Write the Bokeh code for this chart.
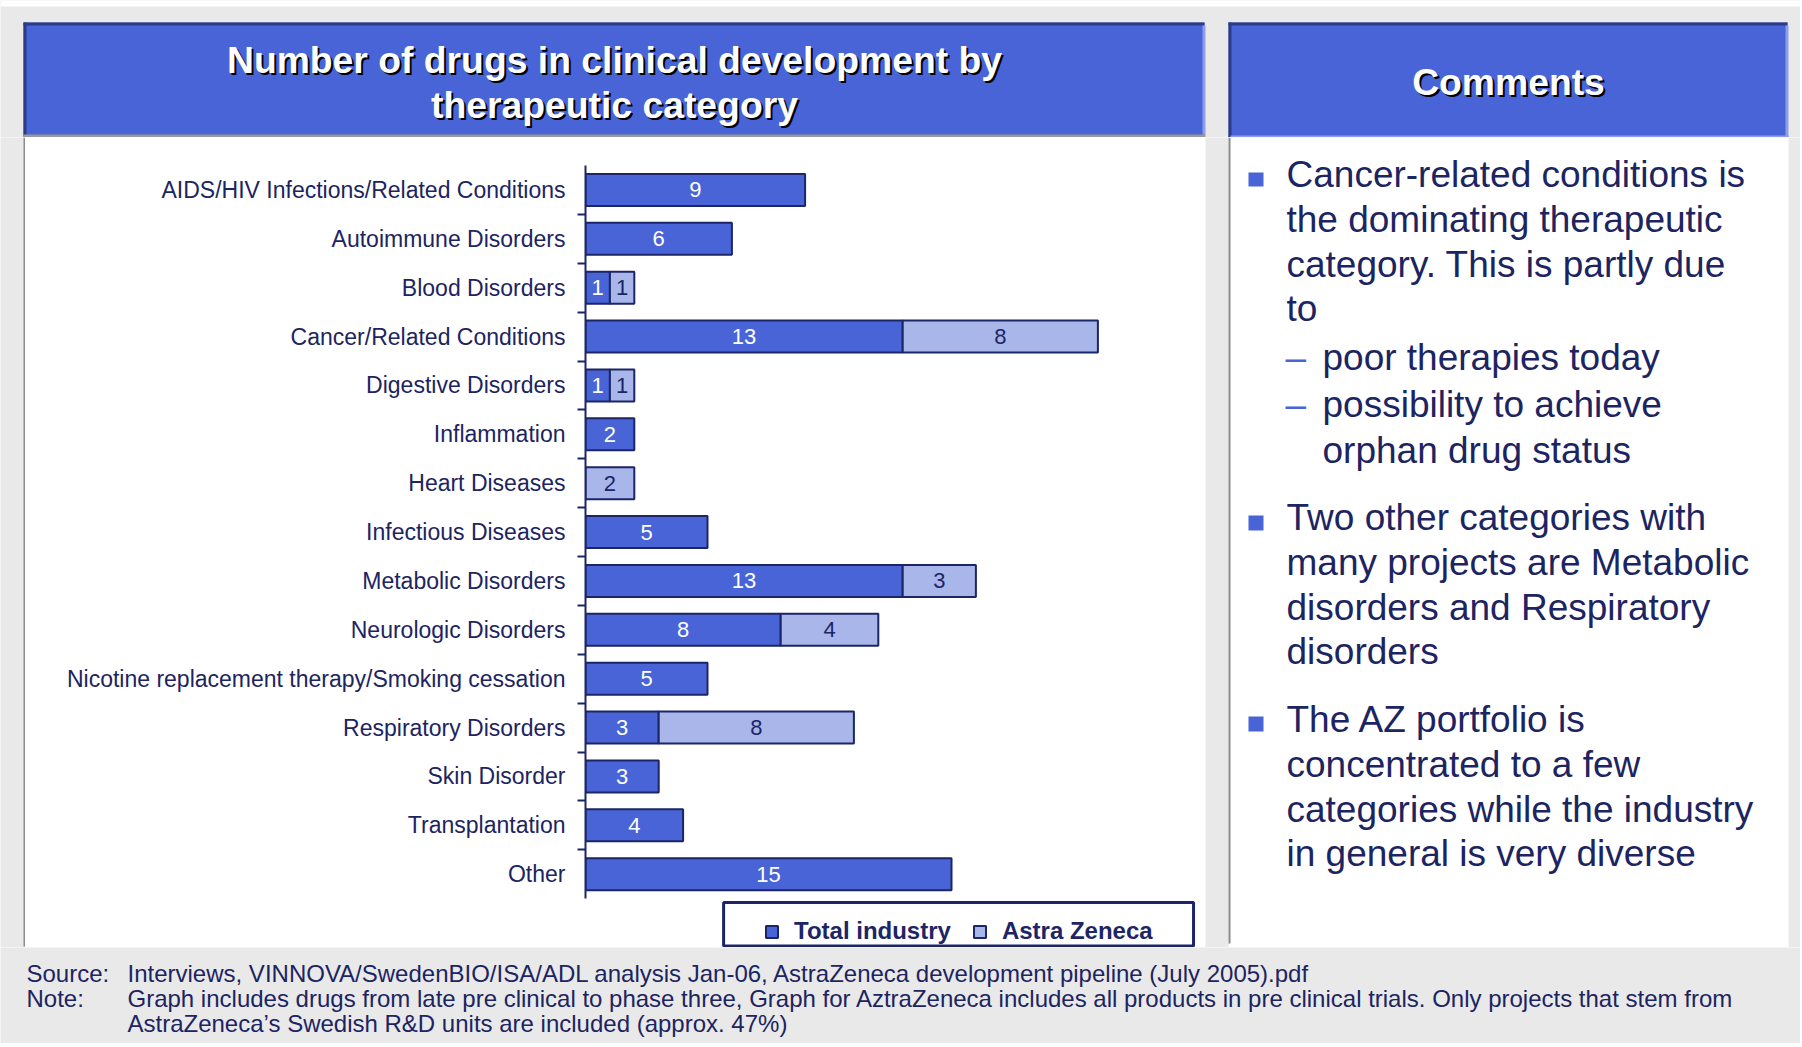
from bokeh.plotting import figure
from bokeh.layouts import column, row
from bokeh.models import (FactorRange, Range1d, CategoricalAxis, Legend, LegendItem,
                          ColumnDataSource)
from bokeh.core.properties import value
from bokeh.embed import file_html
from bokeh.resources import INLINE

# ---------------- data ----------------
categories = [
    "AIDS/HIV Infections/Related Conditions",
    "Autoimmune Disorders",
    "Blood Disorders",
    "Cancer/Related Conditions",
    "Digestive Disorders",
    "Inflammation",
    "Heart Diseases",
    "Infectious Diseases",
    "Metabolic Disorders",
    "Neurologic Disorders",
    "Nicotine replacement therapy/Smoking cessation",
    "Respiratory Disorders",
    "Skin Disorder",
    "Transplantation",
    "Other",
]
total_industry = [9, 6, 1, 13, 1, 2, 0, 5, 13, 8, 5, 3, 3, 4, 15]
astra_zeneca = [0, 0, 1, 8, 1, 0, 2, 0, 3, 4, 0, 8, 0, 0, 0]
series_names = ["Total industry", "Astra Zeneca"]

title_lines = ["Number of drugs in clinical development by", "therapeutic category"]
comments_title = "Comments"
comment_bullets = [
    ["Cancer-related conditions is", "the dominating therapeutic",
     "category. This is partly due", "to"],
    ["Two other categories with", "many projects are Metabolic",
     "disorders and Respiratory", "disorders"],
    ["The AZ portfolio is", "concentrated to a few",
     "categories while the industry", "in general is very diverse"],
]
comment_subitems = [["poor therapies today"], ["possibility to achieve", "orphan drug status"]]
source_label, note_label = "Source:", "Note:"
source_text = "Interviews, VINNOVA/SwedenBIO/ISA/ADL analysis Jan-06, AstraZeneca development pipeline (July 2005).pdf"
note_lines = [
    "Graph includes drugs from late pre clinical to phase three, Graph for AztraZeneca includes all products in pre clinical trials. Only projects that stem from",
    "AstraZeneca\u2019s Swedish R&D units are included (approx. 47%)",
]

# ---------------- style ----------------
BLUE = "#4864d6"
LIGHT = "#a9b6ea"
NAVY = "#1c2566"
TEXT = "#1c2461"
GREY_BG = "#e9e9e9"
DARK_EDGE = "#2d3a86"
LIGHT_EDGE = "#8e9ee8"
BORDER_GREY = "#8c8c8c"
FONT = "Liberation Sans"
TOTAL_W = 1800
BASE_K = 0.35   # baseline correction (fraction of font size)


def pixel_fig(x0, x1, y0, y1, bg):
    """A figure whose data coordinates are page pixels (y downwards)."""
    f = figure(width=x1 - x0, height=y1 - y0, output_backend="svg", toolbar_location=None,
               x_range=Range1d(x0, x1), y_range=Range1d(y1, y0), title=None,
               x_axis_location=None, y_axis_location=None, min_border=0,
               background_fill_color=bg, border_fill_color=bg, outline_line_color=None)
    f.xgrid.visible = False
    f.ygrid.visible = False
    return f


def rects(f, boxes, color, **kw):
    f.quad(left=[b[0] for b in boxes], top=[b[1] for b in boxes],
           right=[b[2] for b in boxes], bottom=[b[3] for b in boxes],
           fill_color=color, line_color=None, **kw)


def texts(f, xs, ys, strs, size, color, bold=False, align="left"):
    f.text(x=xs, y=[y - BASE_K * size for y in ys], text=strs, text_font=value(FONT),
           text_font_size=f"{size}px", text_color=color,
           text_font_style="bold" if bold else "normal",
           text_align=align, text_baseline="alphabetic")


# ================= header strip (page y 0..137) =================
header = pixel_fig(0, TOTAL_W, 0, 137, GREY_BG)
rects(header, [(0, 0, TOTAL_W, 6)], "white")
rects(header, [(23, 22, 1204, 136), (1228, 22, 1787, 137)], BLUE)
rects(header, [(23, 22, 1204, 25), (23, 22, 26, 136),
               (1228, 22, 1787, 25), (1228, 22, 1231, 137)], DARK_EDGE)
rects(header, [(1202, 25, 1205, 134), (1785, 25, 1788, 137), (1230, 135, 1788, 137)], LIGHT_EDGE)
rects(header, [(23, 134, 1205, 137)], "#9a9a9a")
TS = 37.3
t_ys = [73 + 45 * i for i in range(len(title_lines))]
texts(header, [616] * len(title_lines), [y + 2 for y in t_ys], title_lines, TS, "black", True, "center")
texts(header, [614] * len(title_lines), t_ys, title_lines, TS, "white", True, "center")
texts(header, [1510], [97], [comments_title], TS, "black", True, "center")
texts(header, [1508], [95], [comments_title], TS, "white", True, "center")

# ================= left grey strip (page x 0..25, y 137..947) =================
strip = pixel_fig(0, 25, 137, 947, GREY_BG)
rects(strip, [(23, 137, 25, 946)], BORDER_GREY)

# ================= chart (page x 25..1205, y 137..947) =================
FRAME_L, FRAME_R, FRAME_T, FRAME_B = 585, 1195, 165, 947
CH_X0, CH_X1, CH_Y0, CH_Y1 = 25, 1205, 137, 947
N = len(categories)
# one blank slot below the categories holds the legend (inside the frame)
y_factors = [""] + list(reversed(categories))
chart = figure(width=CH_X1 - CH_X0, height=CH_Y1 - CH_Y0, output_backend="svg",
               toolbar_location=None, title=None,
               y_range=FactorRange(factors=y_factors, range_padding=0),
               x_range=Range1d(0, 25), x_axis_location=None, y_axis_location=None,
               min_border_left=FRAME_L - CH_X0, min_border_right=CH_X1 - FRAME_R,
               min_border_top=FRAME_T - CH_Y0, min_border_bottom=CH_Y1 - FRAME_B,
               border_fill_color="white", background_fill_color="white",
               outline_line_color=None)
chart.xgrid.visible = False
chart.ygrid.visible = False

tl_cat, tl_left, tl_right, tl_mid, tl_lbl = [], [], [], [], []
az_cat, az_left, az_right, az_mid, az_lbl = [], [], [], [], []
for c, t, a in zip(categories, total_industry, astra_zeneca):
    if t > 0:
        tl_cat.append(c); tl_left.append(0); tl_right.append(t)
        tl_mid.append(t / 2); tl_lbl.append(str(t))
    if a > 0:
        az_cat.append(c); az_left.append(t); az_right.append(t + a)
        az_mid.append(t + a / 2); az_lbl.append(str(a))

src_t = ColumnDataSource(dict(cat=tl_cat, left=tl_left, right=tl_right, mid=tl_mid, lbl=tl_lbl))
src_a = ColumnDataSource(dict(cat=az_cat, left=az_left, right=az_right, mid=az_mid, lbl=az_lbl))

r1 = chart.hbar(y="cat", left="left", right="right", height=0.655, source=src_t,
                fill_color=BLUE, line_color=NAVY, line_width=2)
r2 = chart.hbar(y="cat", left="left", right="right", height=0.655, source=src_a,
                fill_color=LIGHT, line_color=NAVY, line_width=2)
chart.text(x="mid", y="cat", text="lbl", source=src_t, text_color="white",
           text_align="center", text_baseline="middle", text_font=value(FONT),
           text_font_size="22px")
chart.text(x="mid", y="cat", text="lbl", source=src_a, text_color=NAVY,
           text_align="center", text_baseline="middle", text_font=value(FONT),
           text_font_size="22px")

# boundary ticks (Excel style): factor centres placed exactly on category boundaries
bound_factors = [f"b{i}" for i in range(N + 2)]
chart.extra_y_ranges = {"bounds": FactorRange(factors=bound_factors, range_padding=-0.5,
                                              range_padding_units="absolute")}
tick_axis = CategoricalAxis(y_range_name="bounds", bounds=(1.5, N + 1.5),
                            axis_line_color=NAVY, axis_line_width=2,
                            major_tick_line_color=NAVY, major_tick_line_width=2,
                            major_tick_out=8, major_tick_in=0,
                            major_label_standoff=0, major_label_text_font_size="1px",
                            major_label_text_color=None)
chart.add_layout(tick_axis, "left")
cat_axis = CategoricalAxis(axis_line_color=None, major_tick_line_color=None,
                           major_tick_out=0, major_tick_in=0, major_label_standoff=12,
                           major_label_text_font=FONT, major_label_text_font_size="23px",
                           major_label_text_color=TEXT)
chart.add_layout(cat_axis, "left")

# legend box (in the blank slot; x in value units, y in category units)
chart.quad(left=[5.66], right=[24.92], top=[0.92], bottom=[0.03],
           fill_color="white", line_color=NAVY, line_width=3)
legend = Legend(items=[LegendItem(label=series_names[0], renderers=[r1]),
                       LegendItem(label=series_names[1], renderers=[r2])],
                location=(179, 2), orientation="horizontal",
                border_line_color=None, background_fill_alpha=0,
                label_text_font=FONT, label_text_font_style="bold",
                label_text_font_size="24px", label_text_color=NAVY,
                glyph_width=15, glyph_height=15, label_standoff=15,
                spacing=21, padding=5, margin=0)
chart.add_layout(legend)

# ================= comments panel (page x 1205..1800, y 137..947) =================
right = pixel_fig(1205, TOTAL_W, 137, 947, GREY_BG)
rects(right, [(1228, 137, 1788, 947)], "white")
rects(right, [(1228, 137, 1230, 943)], BORDER_GREY)
rects(right, [(1248, 172, 1263, 186), (1248, 515, 1263, 530), (1248, 716, 1263, 731)], BLUE)
COM = 37
LH = 44.8
main_x, main_y, main_t = [], [], []
for lines, y0 in zip(comment_bullets, [187, 530, 732]):
    for k, s in enumerate(lines):
        main_x.append(1286); main_y.append(y0 + LH * k); main_t.append(s)
texts(right, main_x, main_y, main_t, COM, TEXT)
sub_x, sub_y, sub_t = [], [], []
dash_y = []
y = 370
for item in comment_subitems:
    dash_y.append(y)
    for s in item:
        sub_x.append(1322); sub_y.append(y); sub_t.append(s)
        y += 46.5
texts(right, sub_x, sub_y, sub_t, COM, TEXT)
texts(right, [1285] * len(dash_y), dash_y, ["\u2013"] * len(dash_y), COM, BLUE)

# ================= footer (page y 947..1043) =================
footer = pixel_fig(0, TOTAL_W, 947, 1043, GREY_BG)
FS = 24
texts(footer, [26, 26], [981, 1006], [source_label, note_label], FS, TEXT)
texts(footer, [127, 127, 127], [981, 1006, 1031], [source_text] + note_lines, FS, TEXT)

# the chart sits in its own column so its frame is not aligned with the panel strips
layout = column(header,
                row(strip, column(chart, spacing=0), right, spacing=0),
                footer, spacing=0)

open("out.html", "w").write(file_html(layout, INLINE))
